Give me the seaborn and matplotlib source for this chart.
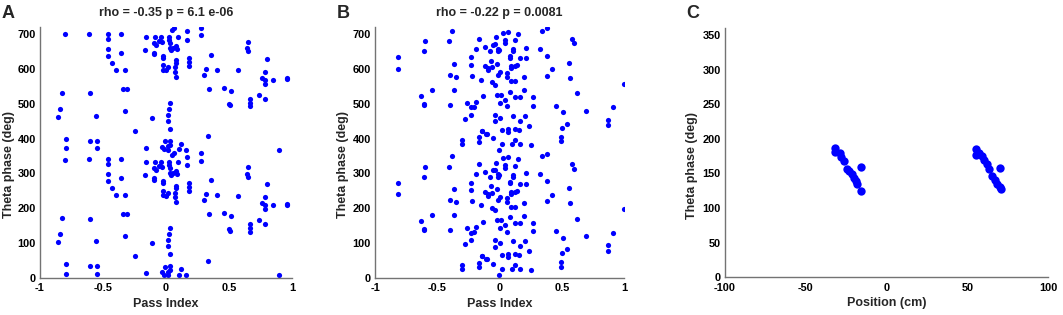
import numpy as np
import pandas as pd
import seaborn as sns
import matplotlib
matplotlib.use("Agg")
import matplotlib.pyplot as plt

# === Data (phase in 0-360, plotted twice: phase and phase + 360) ===
passA_x = [-0.854, -0.841, -0.823, -0.80, -0.79, -0.79,
           -0.611, -0.60, -0.606, -0.553, -0.55, -0.548,
           -0.458, -0.458, -0.458, -0.463, -0.429, -0.40,
           -0.354, -0.357, -0.323, -0.339, -0.31, -0.323,
           -0.246, -0.161, -0.167, -0.159, -0.108,
           -0.085, -0.093, -0.082, -0.093, -0.093, -0.053, -0.037, -0.032, -0.026, -0.026,
           -0.02, -0.02, -0.003, 0.013, 0.021, 0.026, 0.034, 0.04, 0.03, 0.066,
           0.05, 0.06, 0.082, 0.09, 0.095, 0.082, 0.077, 0.069, 0.071, 0.082,
           0.164, 0.164, 0.18, 0.18, 0.18,
           -0.034, -0.008, -0.016, 0.013, 0.018, 0.032, 0.032, 0.016, 0.016, 0.026, 0.034,
           0.029, 0.12, 0.103, 0.156,
           0.278, 0.278, 0.299, 0.315, 0.344, 0.354, 0.331,
           0.407, 0.458, 0.569, 0.52, 0.497, 0.508,
           0.651, 0.646, 0.648, 0.667, 0.667, 0.667, 0.738,
           0.804, 0.786, 0.762, 0.786, 0.786, 0.852, 0.786, 0.894, 0.958, 0.963]
passA_phase = [102, 125, 171, 339, 40, 12,
               341, 170, 34, 106, 33, 12,
               340, 326, 297, 278, 257, 238,
               340, 287, 238, 182, 182, 120,
               62, 332, 294, 14, 100,
               332, 314, 310, 286, 282, 321, 332, 317, 278, 271,
               250, 238, 236, 244, 332, 323, 315, 295, 301, 358,
               352, 301, 307, 297, 332, 265, 257, 245, 231, 218,
               348, 324, 271, 260, 249,
               16, 32, 9, 18, 8, 34, 68, 91, 108, 125, 142,
               22, 24, 9, 7,
               358, 336, 223, 240, 182, 281, 48,
               238, 185, 236, 177, 139, 135,
               317, 299, 290, 154, 143, 132, 165,
               269, 231, 214, 209, 197, 209, 154, 7, 210, 213]

passB_x = [-0.818, -0.815, -0.60, -0.61, -0.63, -0.61, -0.61, -0.54, -0.41, -0.38,
           -0.364, -0.40, -0.35, -0.37, -0.40, -0.30, -0.30, -0.28, -0.26, -0.228, -0.23,
           -0.169, -0.188, -0.228, -0.233, -0.22, -0.151, -0.193, -0.207, -0.135, -0.14,
           -0.10, -0.164, -0.164, -0.116, -0.081, -0.12, -0.094, -0.06, -0.073, -0.028,
           -0.036, -0.015, -0.015, 0.023, 0.07, 0.04, 0.04, 0.12, 0.148, 0.11,
           0.11, 0.21, 0.16, 0.21, 0.085, 0.085, 0.143, 0.124, 0.09, 0.09,
           0.06, 0.06, -0.01, 0.09, 0.12, 0.196, 0.196, 0.08, 0.007, 0.04,
           0.06, 0.12, 0.16, 0.27, 0.27, -0.035, -0.035, 0.0, 0.11, 0.205,
           0.165, 0.237, 0.017, 0.065, 0.07, 0.12, 0.153, -0.05, 0.017, 0.1,
           0.124, 0.16, 0.25, -0.007, 0.32, 0.383, 0.418, 0.377, 0.45, 0.51,
           0.50, 0.49, 0.49, 0.54, 0.58, 0.60, 0.556, 0.567, 0.617, 0.69,
           0.873, 0.873, 0.907, 1.0, 0.337, 0.383,
           -0.092, -0.05, -0.006, -0.018, 0.0, -0.058, -0.034, -0.018, 0.0, -0.138, -0.106]
passB_phase = [273, 240, 319, 290, 163, 140, 137, 180, 319, 350,
               254, 223, 218, 180, 137, 36, 24, 96, 143, 108, 130,
               327, 297, 273, 252, 220, 209, 146, 131, 161, 62,
               54, 44, 30, 303, 290, 247, 242, 245, 263, 331,
               311, 298, 290, 343, 346, 324, 314, 322, 341, 296,
               290, 300, 270, 270, 271, 276, 250, 247, 247, 242,
               228, 218, 223, 204, 204, 216, 178, 175, 166, 152,
               132, 158, 158, 158, 134, 108, 89, 99, 106, 105,
               91, 77, 65, 67, 60, 67, 65, 41, 24, 24,
               36, 24, 22, 8, 297, 278, 239, 220, 134, 115,
               70, 45, 32, 82, 327, 313, 257, 214, 170, 120,
               94, 78, 130, 198, 350, 357,
               236, 309, 294, 254, 231, 201, 195, 166, 142, 62, 53]

pos_cm = [-31.6, -32.2, -29.1, -27.9, -26.2, -24.6, -23.0, -21.5, -20.3, -19.0, -18.0, -15.9, -16.1,
          55.4, 55.2, 57.4, 59.1, 60.5, 62.2, 63.6, 65.3, 67.1, 68.6, 70.2, 71.0, 70.2]
pos_phase = [187, 181, 179, 174, 168, 157, 154, 149, 143, 139, 134, 125, 159,
             185, 176, 179, 175, 169, 163, 156, 146, 140, 135, 130, 127, 158]

titles = ["rho = -0.35 p = 6.1 e-06", "rho = -0.22 p = 0.0081"]

# === Style ===
sns.set_theme(style="white")
plt.rcParams["font.family"] = ["Liberation Sans", "DejaVu Sans"]
plt.rcParams["font.weight"] = "bold"
plt.rcParams["axes.unicode_minus"] = False

BLUE = "#0000ff"
TICK_FS = 7.9
LABEL_FS = 9
LETTER_FS = 13

fig = plt.figure(figsize=(10.63, 3.15), dpi=100)


def style_axes(ax, ylab_x):
    for s in ["top", "right"]:
        ax.spines[s].set_visible(False)
    for s in ["left", "bottom"]:
        ax.spines[s].set_color("0.45")
        ax.spines[s].set_linewidth(1.0)
    ax.tick_params(direction="in", length=3, width=0.8, color="0.45",
                   labelsize=TICK_FS, labelcolor="black")
    ax.tick_params(axis="y", pad=3)
    ax.tick_params(axis="x", pad=4)
    for lab in ax.get_xticklabels() + ax.get_yticklabels():
        lab.set_fontweight("bold")
    ax.yaxis.set_label_coords(ylab_x, 0.45)


def pass_panel(rect, xs, ph, title, letter, ylab_x):
    ax = fig.add_axes(rect)
    df = pd.DataFrame({"x": list(xs) * 2,
                       "phase": list(ph) + [p + 360 for p in ph]})
    sns.scatterplot(data=df, x="x", y="phase", ax=ax, color=BLUE, s=14,
                    linewidth=0, legend=False)
    ax.set_xlim(-1, 1)
    ax.set_ylim(0, 720)
    ax.set_xticks([-1, -0.5, 0, 0.5, 1])
    ax.set_xticklabels(["-1", "-0.5", "0", "0.5", "1"])
    ax.set_yticks(range(0, 701, 100))
    ax.set_yticklabels([str(v) for v in range(0, 701, 100)])
    ax.set_xlabel("Pass Index", fontsize=LABEL_FS, fontweight="bold", labelpad=3)
    ax.set_ylabel("Theta phase (deg)", fontsize=LABEL_FS, fontweight="bold")
    ax.set_title(title, fontsize=LABEL_FS, fontweight="bold", pad=8)
    style_axes(ax, ylab_x)
    fig.text(rect[0] - 0.036, 0.985, letter, fontsize=LETTER_FS, fontweight="bold",
             va="top", ha="left")
    return ax


pass_panel([0.0376, 0.118, 0.237, 0.796], passA_x, passA_phase, titles[0], "A", -0.10)
pass_panel([0.3528, 0.118, 0.2345, 0.796], passB_x, passB_phase, titles[1], "B", -0.105)

axC = fig.add_axes([0.682, 0.12, 0.304, 0.791])
sns.scatterplot(x=pos_cm, y=pos_phase, ax=axC, color=BLUE, s=36, linewidth=0,
                legend=False)
axC.set_xlim(-100, 100)
axC.set_ylim(0, 360)
axC.set_xticks([-100, -50, 0, 50, 100])
axC.set_xticklabels(["-100", "-50", "0", "50", "100"])
axC.set_yticks(range(0, 351, 50))
axC.set_yticklabels([str(v) for v in range(0, 351, 50)])
axC.set_xlabel("Position (cm)", fontsize=LABEL_FS, fontweight="bold", labelpad=3)
axC.set_ylabel("Theta phase (deg)", fontsize=LABEL_FS, fontweight="bold")
style_axes(axC, -0.082)
fig.text(0.646, 0.985, "C", fontsize=LETTER_FS, fontweight="bold", va="top", ha="left")

fig.savefig("out.png", dpi=100)
